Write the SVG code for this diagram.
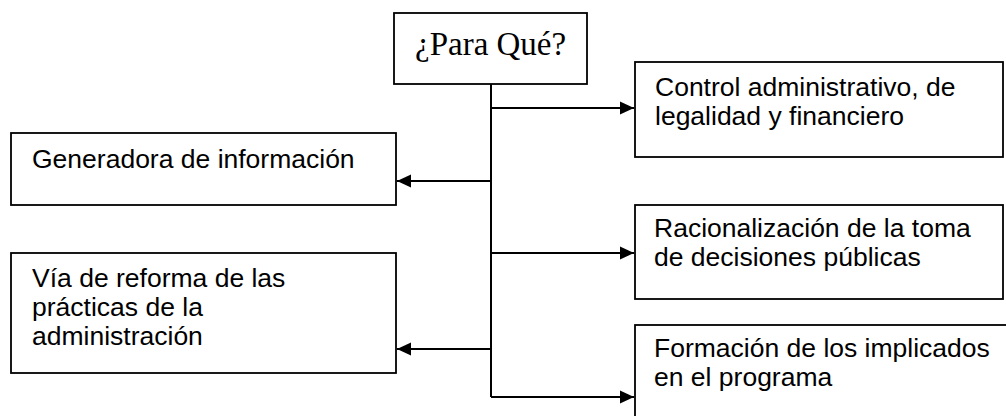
<svg xmlns="http://www.w3.org/2000/svg" width="1006" height="416" viewBox="0 0 1006 416">
<style>
.box{fill:#fff;stroke:#000;stroke-width:1.8}
.t{font-family:"Liberation Sans",Arial,sans-serif;font-size:26.5px;fill:#000}
.tt{font-family:"Liberation Serif","Times New Roman",serif;font-size:33px;fill:#000}
.c{fill:none;stroke:#000;stroke-width:2}
</style>
<defs>
<marker id="ah" markerUnits="userSpaceOnUse" markerWidth="15" markerHeight="14" refX="14" refY="7" orient="auto">
<path d="M0,0.5 L14,7 L0,13.5 z" fill="#000"/>
</marker>
</defs>
<g id="connectors">
<path class="c" d="M491,84 V397"/>
<path class="c" d="M491,108 H634" marker-end="url(#ah)"/>
<path class="c" d="M491,253 H634" marker-end="url(#ah)"/>
<path class="c" d="M491,397 H634" marker-end="url(#ah)"/>
<path class="c" d="M491,181 H397" marker-end="url(#ah)"/>
<path class="c" d="M491,349 H397" marker-end="url(#ah)"/>
</g>
<g id="para-que">
<rect class="box" x="394" y="13" width="193" height="71"/>
<text class="tt" x="415" y="55">¿Para Qué?</text>
</g>
<g id="control">
<rect class="box" x="635" y="62" width="368" height="95"/>
<text class="t" x="655" y="96">Control administrativo, de</text>
<text class="t" x="655" y="125">legalidad y financiero</text>
</g>
<g id="generadora">
<rect class="box" x="11" y="133" width="385" height="72"/>
<text class="t" x="32" y="168">Generadora de información</text>
</g>
<g id="racionalizacion">
<rect class="box" x="635" y="205" width="368" height="94"/>
<text class="t" x="654" y="237">Racionalización de la toma</text>
<text class="t" x="654" y="266">de decisiones públicas</text>
</g>
<g id="via-reforma">
<rect class="box" x="11" y="253" width="385" height="120"/>
<text class="t" x="32" y="287">Vía de reforma de las</text>
<text class="t" x="32" y="316">prácticas de la</text>
<text class="t" x="32" y="345">administración</text>
</g>
<g id="formacion">
<rect class="box" x="635" y="325" width="380" height="110"/>
<text class="t" x="654" y="357">Formación de los implicados</text>
<text class="t" x="654" y="386">en el programa</text>
</g>
</svg>
